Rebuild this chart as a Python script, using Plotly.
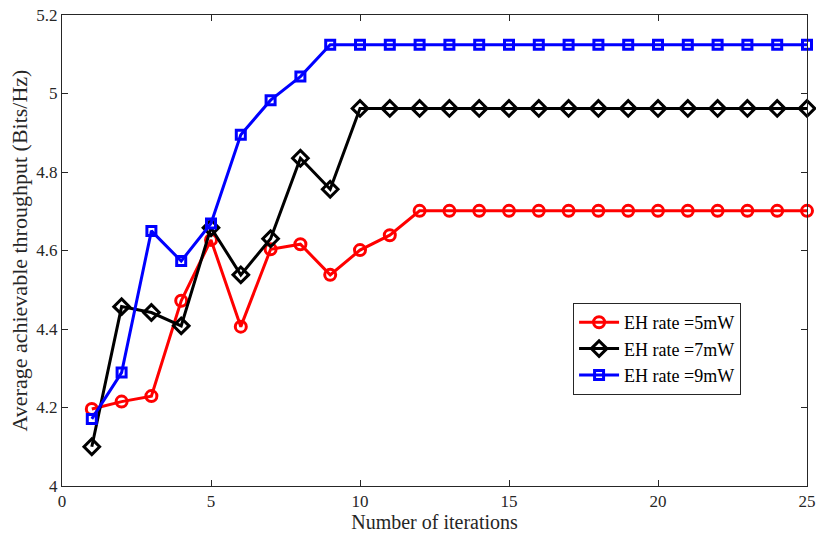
import plotly.graph_objects as go

iterations = list(range(1, 26))
eh5 = [4.196, 4.215, 4.229, 4.472, 4.627, 4.406, 4.603, 4.616, 4.538, 4.601, 4.639] + [4.701] * 14
eh7 = [4.100, 4.457, 4.442, 4.408, 4.658, 4.538, 4.630, 4.835, 4.756] + [4.962] * 16
eh9 = [4.171, 4.289, 4.650, 4.573, 4.669, 4.895, 4.983, 5.043] + [5.124] * 17

series = [
    ("EH rate =5mW", eh5, "#ff0000", "circle-open", 11),
    ("EH rate =7mW", eh7, "#000000", "diamond-open", 12),
    ("EH rate =9mW", eh9, "#0000ff", "square-open", 9),
]

fig = go.Figure()
for name, vals, col, sym, sz in series:
    fig.add_trace(go.Scatter(
        x=iterations, y=vals, name=name, mode="lines+markers",
        line=dict(color=col, width=3),
        marker=dict(symbol=sym, size=sz, color=col, line=dict(color=col, width=3)),
        cliponaxis=False,
    ))

axis_common = dict(
    showgrid=False, zeroline=False, showline=True, linecolor="#262626", linewidth=1,
    mirror="ticks", ticks="inside", ticklen=6, tickcolor="#262626", automargin=False,
    tickfont=dict(family="Liberation Serif", size=17, color="#262626"),
)
fig.update_xaxes(range=[0, 25], tickvals=[0, 5, 10, 15, 20, 25], ticktext=["0", "5", "10", "15", "20", "25"],
                 title=dict(text="Number of iterations", font=dict(family="Liberation Serif", size=20, color="#262626"), standoff=2),
                 **axis_common)
fig.update_yaxes(range=[4, 5.2], tickvals=[4, 4.2, 4.4, 4.6, 4.8, 5, 5.2],
                 ticktext=["4", "4.2", "4.4", "4.6", "4.8", "5", "5.2"],
                 title=dict(text="Average achievable throughput (Bits/Hz)", font=dict(family="Liberation Serif", size=22, color="#262626"), standoff=2),
                 **axis_common)

fig.update_layout(
    width=816, height=538,
    margin=dict(l=62, r=9, t=15, b=52),
    plot_bgcolor="white", paper_bgcolor="white",
    legend=dict(x=0.686, y=0.3885, xanchor="left", yanchor="top",
                bgcolor="white", bordercolor="#262626", borderwidth=1,
                font=dict(family="Liberation Serif", size=18, color="#000000"),
                tracegroupgap=0, itemwidth=40),
    showlegend=True,
)
fig.write_html("out.html")
